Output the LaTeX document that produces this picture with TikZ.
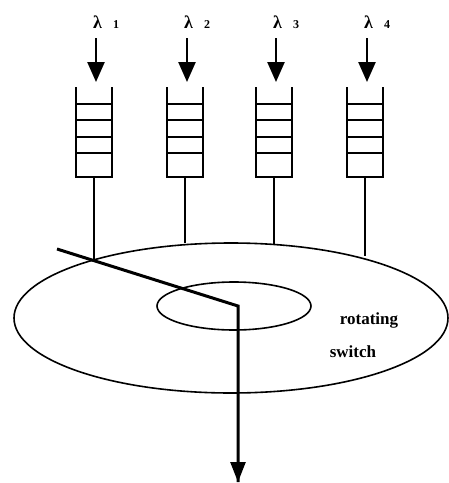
\documentclass[tikz,border=0pt]{standalone}
\usepackage{fontspec}
\setmainfont{Liberation Serif}
\usetikzlibrary{arrows.meta}
\begin{document}
\begin{tikzpicture}[x=1pt,y=-1pt,
  qline/.style={line width=1.9pt},
  stem/.style={line width=1.4pt},
  ring/.style={line width=1.6pt},
  inarrow/.style={line width=2.4pt,-{Triangle[length=20pt,width=17pt]}},
  arm/.style={line width=3pt,line join=miter},
  lab/.style={inner sep=0pt,font=\bfseries\fontsize{18}{20}\selectfont},
  txt/.style={inner sep=0pt,font=\bfseries\fontsize{17}{19}\selectfont}]
\useasboundingbox (0,0) rectangle (449,483);
% rings
\draw[ring] (231,318) ellipse [x radius=217, y radius=75];
\draw[ring] (234,306) ellipse [x radius=77, y radius=24];
% queues
\foreach \i/\cx/\ex in {1/94/259, 2/185/243, 3/274/244, 4/365/256}{
  \coordinate (q\i) at (\cx,177);
  \coordinate (e\i) at (\cx,\ex);
  \coordinate (a\i) at (\cx+2,38);
  \coordinate (b\i) at (\cx+2,82);
  \draw[qline] (\cx-18,87) -- (\cx-18,177) -- (\cx+18,177) -- (\cx+18,87);
  \foreach \y in {104,120,137,153}
    \draw[qline] (\cx-18,\y) -- (\cx+18,\y);
  \draw[stem] (q\i) -- (e\i);
  \draw[inarrow] (a\i) -- (b\i);
  \node[lab,anchor=base west] (l\i) at (\cx-1,28) {λ\hspace{11pt}{\fontsize{12}{14}\selectfont\i}};
}
% switch arm
\coordinate (s0) at (57,249);
\coordinate (hub) at (238,306);
\coordinate (out) at (238,482);
\draw[arm] (s0) -- (hub) -- (out);
\draw[line width=2.6pt,-{Triangle[length=20pt,width=15pt]}] (hub) -- (out);
% labels
\node[txt] (rot) at (369,320) {rotating};
\node[txt] (sw) at (353,352) {switch};
\end{tikzpicture}
\end{document}
